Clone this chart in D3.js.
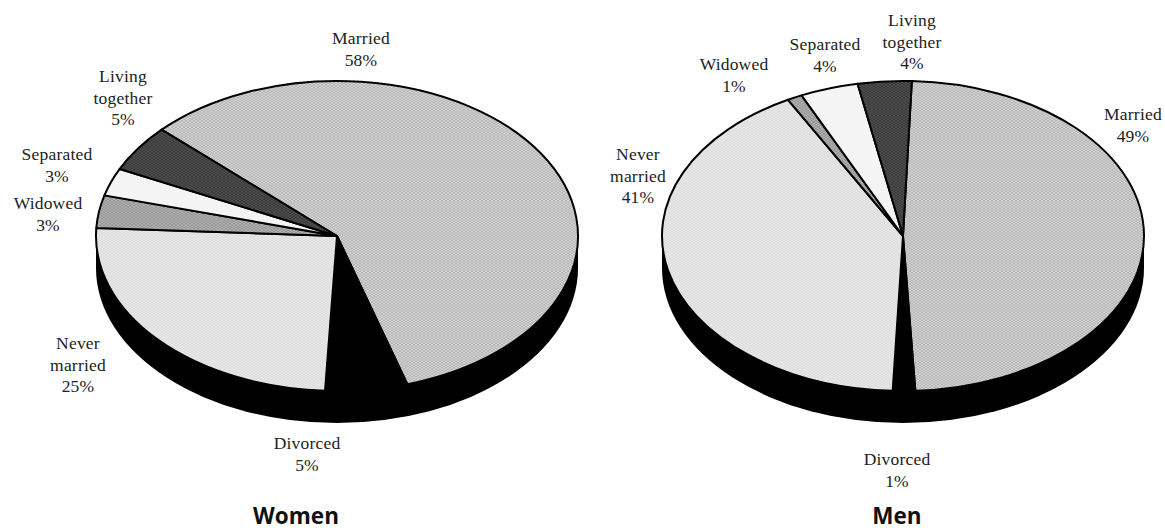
<!DOCTYPE html>
<html><head><meta charset="utf-8">
<script src="https://cdn.jsdelivr.net/npm/d3@7/dist/d3.min.js"></script>
<style>html,body{margin:0;padding:0;background:#fff}svg{display:block}</style>
</head><body><svg id="c" width="1165" height="531"></svg>
<script>
const categories = ["Married","Divorced","Never married","Widowed","Separated","Living together"];
const womenValues = [58.2,5.5,25.0,3.4,2.9,4.9];
const menValues = [48.6,1.5,41.4,1.0,3.9,3.6];
const womenLabels = ["58%","5%","25%","3%","3%","5%"];
const menLabels = ["49%","1%","41%","1%","4%","4%"];
const womenTitle = "Women", menTitle = "Men";

// layout (label anchors, one per category, centre x / first-line baseline)
const womenLabelAt = [[361,44],[307,449],[78,349],[48,209],[57,160],[123,82]];
const menLabelAt = [[1133,120],[897,465],[638,160],[734,70],[825,50],[912,26]];
const W = {cx:337,cy:236,start:313.3,title:[296,524]};
const M = {cx:897,cy:236,start:2.1,title:[897,524]};
M.cx=903;
const rx=241, ry=155, depth=32;

const svg=d3.select("#c");
const defs=svg.append("defs");
function pat(id,a,b){
  const p=defs.append("pattern").attr("id",id).attr("patternUnits","userSpaceOnUse").attr("width",4).attr("height",4);
  p.append("rect").attr("width",4).attr("height",4).attr("fill",a);
  [[0,0],[2,2]].forEach(c=>p.append("rect").attr("x",c[0]).attr("y",c[1]).attr("width",2).attr("height",2).attr("fill",b));
}
pat("p0","#dcdcdc","#acacac");
pat("p2","#ebebeb","#dadada");
pat("p3","#b8b8b8","#8e8e8e");
pat("p4","#f6f6f6","#f3f3f3");
pat("p5","#555555","#333333");
const fills=["url(#p0)","#000","url(#p2)","url(#p3)","url(#p4)","url(#p5)"];

function drawPie(o,values,pcts,at,title){
  const g=svg.append("g").attr("transform",`translate(${o.cx},${o.cy})`);
  const sy=ry/rx;
  const wall=g.append("g");
  wall.append("ellipse").attr("cy",depth).attr("rx",rx).attr("ry",ry).attr("fill","#000");
  wall.append("rect").attr("x",-rx).attr("y",0).attr("width",2*rx).attr("height",depth).attr("fill","#000");
  const s=o.start*Math.PI/180;
  const pie=d3.pie().sort(null).value(d=>d).startAngle(s).endAngle(s+2*Math.PI);
  const arc=d3.arc().innerRadius(0).outerRadius(rx);
  g.append("g").attr("transform",`scale(1,${sy})`)
    .selectAll("path").data(pie(values)).join("path")
    .attr("d",arc)
    .attr("fill",(d,i)=>fills[i])
    .attr("stroke","#000").attr("stroke-width",2).attr("stroke-linejoin","round")
    .attr("vector-effect","non-scaling-stroke");
  const t=svg.append("g").attr("font-family","'Liberation Serif',serif").attr("font-size",17.5).attr("letter-spacing",0.2).attr("fill","#222").attr("text-anchor","middle");
  categories.forEach((c,i)=>{
    const words=c.split(" ").concat([pcts[i]]);
    const txt=t.append("text").attr("x",at[i][0]).attr("y",at[i][1]);
    words.forEach((w,j)=>txt.append("tspan").attr("x",at[i][0]).attr("y",at[i][1]+j*21.7).text(w));
  });
  svg.append("text").attr("x",o.title[0]).attr("y",o.title[1]).attr("text-anchor","middle")
    .attr("font-family","'Open Sans',sans-serif").attr("font-weight",700).attr("font-size",22.5).attr("fill","#111").text(title);
}
drawPie(W,womenValues,womenLabels,womenLabelAt,womenTitle);
drawPie(M,menValues,menLabels,menLabelAt,menTitle);
</script></body></html>
